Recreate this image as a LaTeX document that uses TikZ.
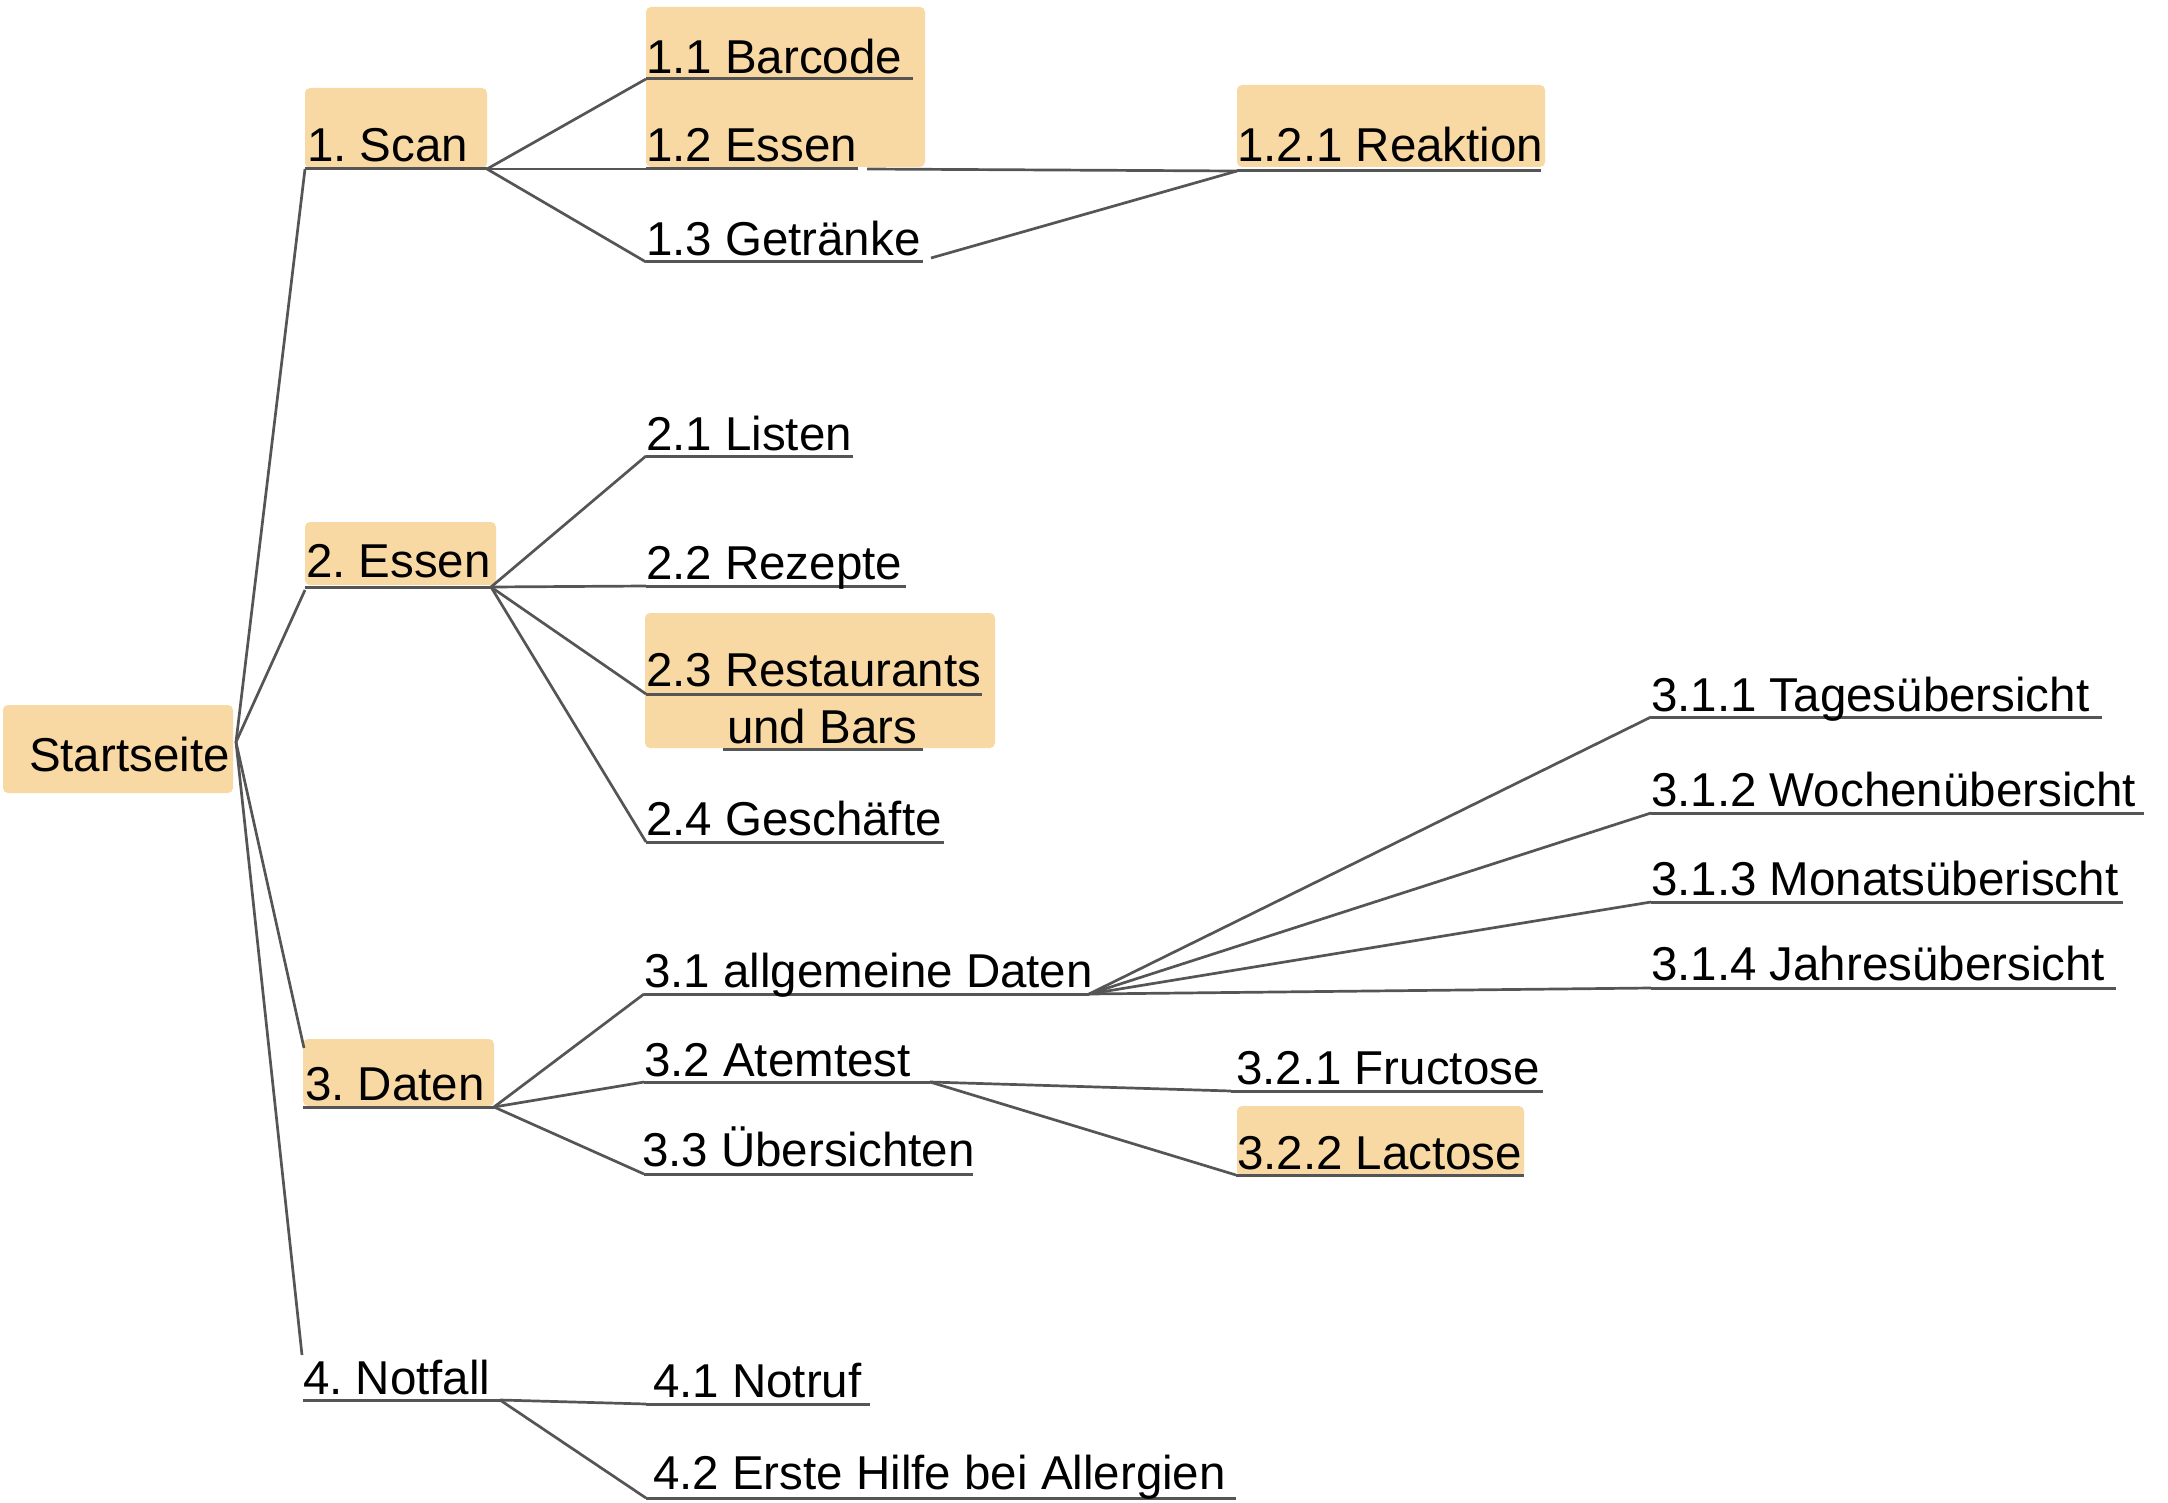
\documentclass[tikz,border=0pt]{standalone}
\usepackage{fontspec}
\setmainfont{Liberation Sans}
\definecolor{boxfill}{RGB}{249,217,163}
\definecolor{linegray}{RGB}{85,85,85}
\begin{document}
\frenchspacing
\begin{tikzpicture}[x=0.5pt,y=-0.5pt,
  lbl/.style={anchor=base west,inner sep=0pt,outer sep=0pt,font=\fontsize{23.75}{28}\selectfont},
  hl/.style={fill=boxfill,draw=none,rounded corners=2.5pt},
  conn/.style={draw=linegray,line width=1.35pt},
  uline/.style={draw=linegray,line width=1.5pt}]
\useasboundingbox (0,0) rectangle (2168,1503);
% ---------- highlight boxes
\fill[hl] (3,705) rectangle (233,793);
\fill[hl] (305,88) rectangle (487,168);
\fill[hl] (646,7) rectangle (925,167);
\fill[hl] (1237,85) rectangle (1545,167);
\fill[hl] (305,522) rectangle (496,585);
\fill[hl] (645,613) rectangle (995,748);
\fill[hl] (303,1039) rectangle (494,1106);
\fill[hl] (1237,1106) rectangle (1524,1177);
% ---------- coordinates (underline ends)
\coordinate (S0) at (236,742);
\coordinate (scanL) at (305,169);  \coordinate (scanR) at (487,169);
\coordinate (b11L) at (646,79);    \coordinate (b11R) at (913,79);
\coordinate (b12L) at (646,169);   \coordinate (b12R) at (858,169);
\coordinate (b12T) at (867,169);
\coordinate (b13L) at (646,262);   \coordinate (b13R) at (923,262);
\coordinate (b13T) at (931,258);
\coordinate (b121L) at (1237,171); \coordinate (b121R) at (1541,171);
\coordinate (essL) at (305,587);   \coordinate (essR) at (491,587);
\coordinate (essIn) at (305,590);
\coordinate (b21L) at (646,456);   \coordinate (b21R) at (853,456);
\coordinate (b22L) at (646,586);   \coordinate (b22R) at (906,586);
\coordinate (b23L) at (646,694);   \coordinate (b23R) at (982,694);
\coordinate (b23bL) at (723,749);  \coordinate (b23bR) at (923,749);
\coordinate (b24L) at (646,842);   \coordinate (b24R) at (944,842);
\coordinate (datL) at (303,1107);  \coordinate (datR) at (494,1107);
\coordinate (datIn) at (304,1048);
\coordinate (b31L) at (644,994);   \coordinate (b31R) at (1089,994);
\coordinate (b32L) at (644,1082);  \coordinate (b32R) at (930,1082);
\coordinate (b33L) at (644,1174);  \coordinate (b33R) at (973,1174);
\coordinate (b311L) at (1651,717); \coordinate (b311R) at (2102,717);
\coordinate (b312L) at (1651,813); \coordinate (b312R) at (2144,813);
\coordinate (b313L) at (1651,902); \coordinate (b313R) at (2123,902);
\coordinate (b314L) at (1651,988); \coordinate (b314R) at (2116,988);
\coordinate (b321L) at (1231,1091); \coordinate (b321R) at (1543,1091);
\coordinate (b322L) at (1236,1175); \coordinate (b322R) at (1524,1175);
\coordinate (notL) at (303,1400);  \coordinate (notR) at (500,1400);
\coordinate (notIn) at (302,1355);
\coordinate (b41L) at (646,1404);  \coordinate (b41R) at (870,1404);
\coordinate (b42L) at (646,1498);  \coordinate (b42R) at (1236,1498);
% ---------- underlines
\foreach \a/\b in {scanL/scanR,b11L/b11R,b12L/b12R,b13L/b13R,b121L/b121R,
  essL/essR,b21L/b21R,b22L/b22R,b23L/b23R,b23bL/b23bR,b24L/b24R,
  datL/datR,b31L/b31R,b32L/b32R,b33L/b33R,b311L/b311R,b312L/b312R,
  b313L/b313R,b314L/b314R,b321L/b321R,b322L/b322R,notL/notR,b41L/b41R,b42L/b42R}
  \draw[uline] (\a) -- (\b);
% ---------- connectors
\draw[conn] (S0) -- (scanL);
\draw[conn] (S0) -- (essIn);
\draw[conn] (S0) -- (datIn);
\draw[conn] (S0) -- (notIn);
\draw[conn] (scanR) -- (b11L);
\draw[conn] (scanR) -- (b12L);
\draw[conn] (scanR) -- (b13L);
\draw[conn] (b12T) -- (b121L);
\draw[conn] (b13T) -- (b121L);
\draw[conn] (essR) -- (b21L);
\draw[conn] (essR) -- (b22L);
\draw[conn] (essR) -- (b23L);
\draw[conn] (essR) -- (b24L);
\draw[conn] (datR) -- (b31L);
\draw[conn] (datR) -- (b32L);
\draw[conn] (datR) -- (b33L);
\draw[conn] (b31R) -- (b311L);
\draw[conn] (b31R) -- (b312L);
\draw[conn] (b31R) -- (b313L);
\draw[conn] (b31R) -- (b314L);
\draw[conn] (b32R) -- (b321L);
\draw[conn] (b32R) -- (b322L);
\draw[conn] (notR) -- (b41L);
\draw[conn] (notR) -- (b42L);
% ---------- labels
\node[lbl] (start) at (29,771) {Startseite};
\node[lbl] (scan) at (307,162) {1. Scan};
\node[lbl] (n11) at (646,74) {1.1 Barcode};
\node[lbl] (n12) at (646,162) {1.2 Essen};
\node[lbl] (n13) at (646,256) {1.3 Getränke};
\node[lbl] (n121) at (1237,162) {1.2.1 Reaktion};
\node[lbl] (essen) at (306,577) {2. Essen};
\node[lbl] (n21) at (646,450) {2.1 Listen};
\node[lbl] (n22) at (646,579) {2.2 Rezepte};
\node[lbl] (n23) at (646,686) {2.3 Restaurants};
\node[lbl] (n23b) at (727,743) {und Bars};
\node[lbl] (n24) at (646,835) {2.4 Geschäfte};
\node[lbl] (daten) at (305,1100) {3. Daten};
\node[lbl] (n31) at (644,987) {3.1 allgemeine Daten};
\node[lbl] (n32) at (644,1076) {3.2 Atemtest};
\node[lbl] (n33) at (642,1166) {3.3 Übersichten};
\node[lbl] (n311) at (1651,711) {3.1.1 Tagesübersicht};
\node[lbl] (n312) at (1651,806) {3.1.2 Wochenübersicht};
\node[lbl] (n313) at (1651,895) {3.1.3 Monatsüberischt};
\node[lbl] (n314) at (1651,980) {3.1.4 Jahresübersicht};
\node[lbl] (n321) at (1236,1084) {3.2.1 Fructose};
\node[lbl] (n322) at (1237,1169) {3.2.2 Lactose};
\node[lbl] (notfall) at (303,1394) {4. Notfall};
\node[lbl] (n41) at (653,1397) {4.1 Notruf};
\node[lbl] (n42) at (653,1489) {4.2 Erste Hilfe bei Allergien};
\end{tikzpicture}
\end{document}
